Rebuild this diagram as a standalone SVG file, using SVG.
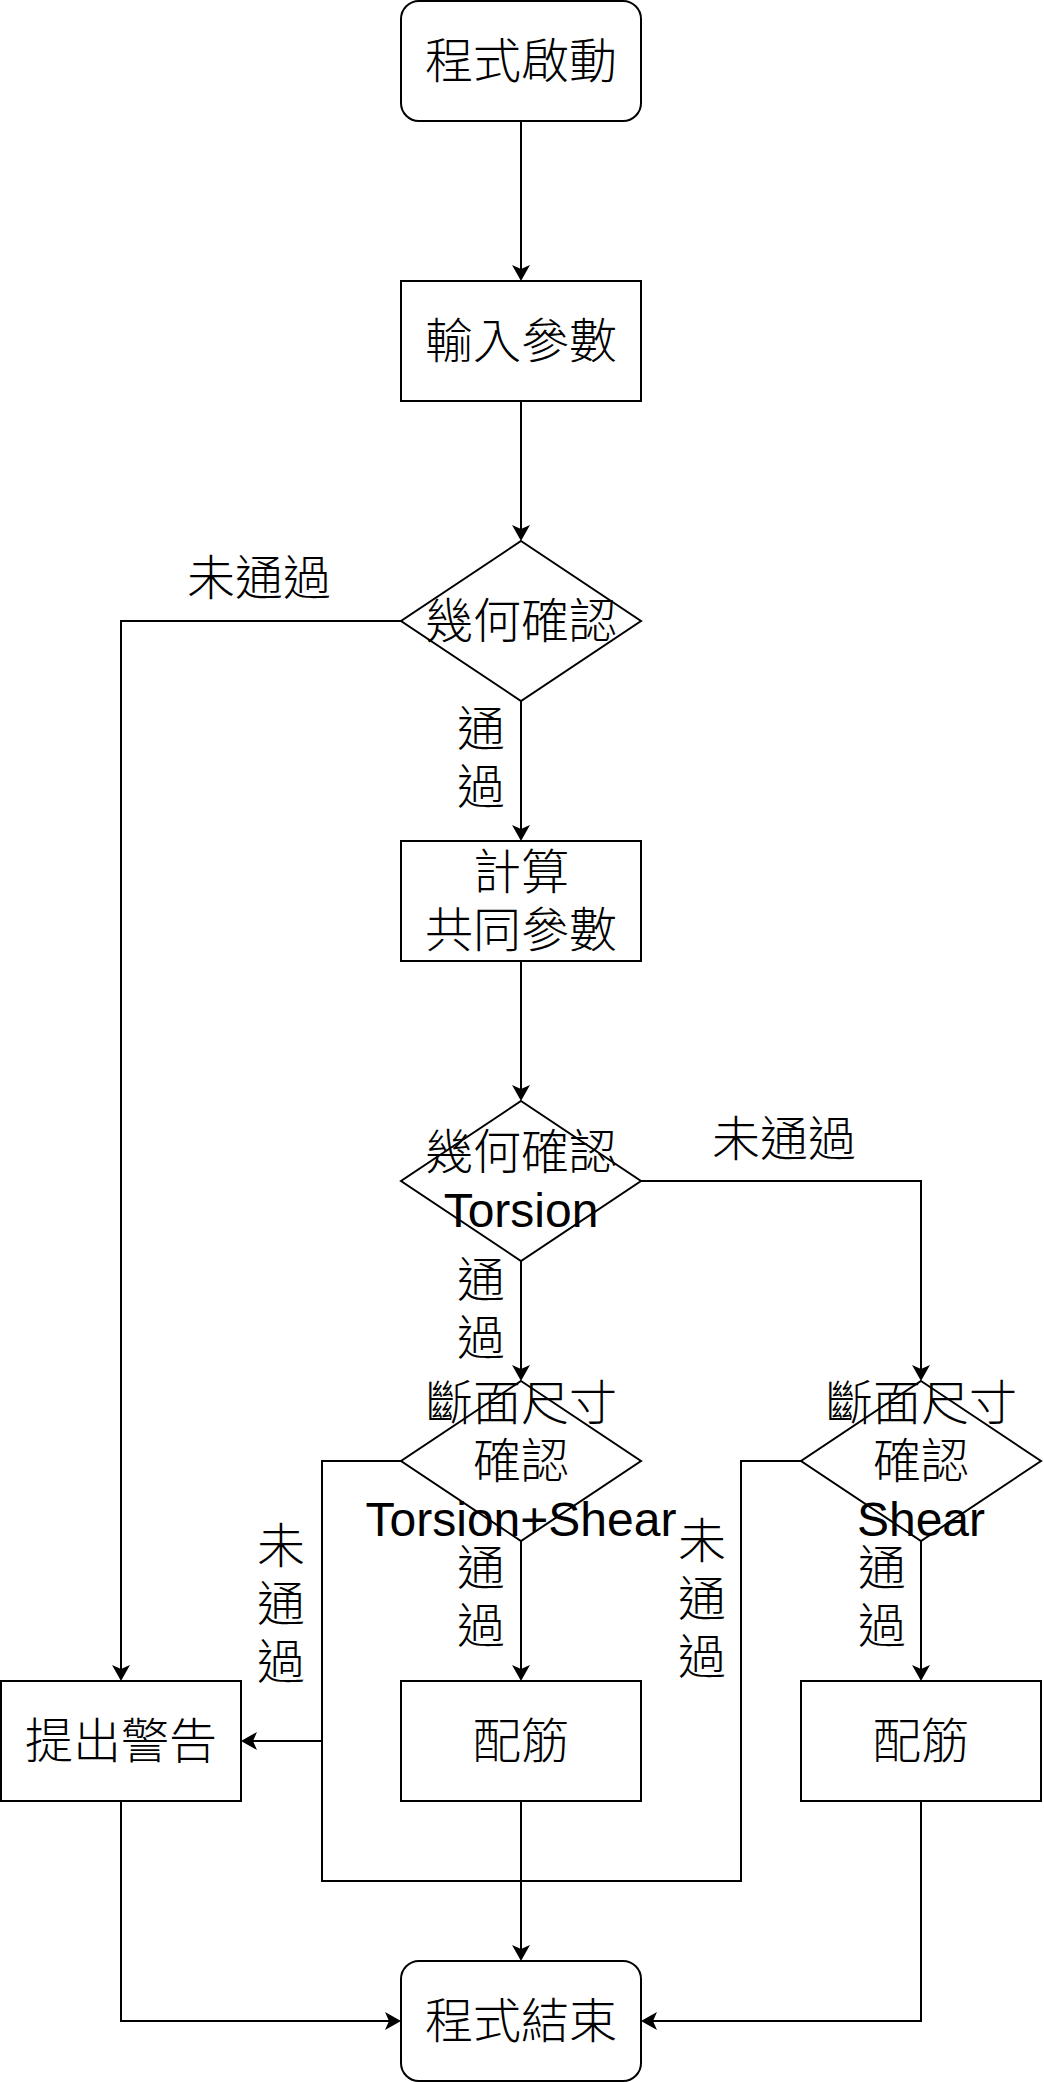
<svg xmlns="http://www.w3.org/2000/svg" width="1044" height="2082" viewBox="0 0 1044 2082">
<style>
.n{fill:#fff;stroke:#000;stroke-width:2}
.t{font-family:"Liberation Sans","Noto Sans CJK TC",sans-serif;font-size:48px;font-weight:300;fill:#000;text-anchor:middle;dominant-baseline:central}
.e{fill:none;stroke:#000;stroke-width:2}
</style>
<defs>
<marker id="a" markerUnits="userSpaceOnUse" viewBox="0 0 16 18" markerWidth="16" markerHeight="18" refX="4" refY="9" orient="auto">
<path d="M0,0 L16,9 L0,18 L4,9 Z" fill="#000"/>
</marker>
</defs>
<g id="connectors">
<path class="e" d="M521,121 V269" marker-end="url(#a)"/>
<path class="e" d="M521,401 V529" marker-end="url(#a)"/>
<path class="e" d="M521,701 V829" marker-end="url(#a)"/>
<path class="e" d="M401,621 H121 V1669" marker-end="url(#a)"/>
<path class="e" d="M521,961 V1089" marker-end="url(#a)"/>
<path class="e" d="M521,1261 V1369" marker-end="url(#a)"/>
<path class="e" d="M641,1181 H921 V1369" marker-end="url(#a)"/>
<path class="e" d="M521,1541 V1669" marker-end="url(#a)"/>
<path class="e" d="M921,1541 V1669" marker-end="url(#a)"/>
<path class="e" d="M401,1461 H322 V1741 H253" marker-end="url(#a)"/>
<path class="e" d="M801,1461 H741 V1881 H322 V1741"/>
<path class="e" d="M521,1801 V1949" marker-end="url(#a)"/>
<path class="e" d="M121,1801 V2021 H389" marker-end="url(#a)"/>
<path class="e" d="M921,1801 V2021 H653" marker-end="url(#a)"/>
<text class="t" x="259" y="578">未通過</text>
<text class="t" x="481" y="729">通</text>
<text class="t" x="481" y="787">過</text>
<text class="t" x="481" y="1280">通</text>
<text class="t" x="481" y="1338">過</text>
<text class="t" x="784" y="1139">未通過</text>
<text class="t" x="481" y="1568">通</text>
<text class="t" x="481" y="1626">過</text>
<text class="t" x="281" y="1546">未</text>
<text class="t" x="281" y="1604">通</text>
<text class="t" x="281" y="1662">過</text>
<text class="t" x="702" y="1541">未</text>
<text class="t" x="702" y="1599">通</text>
<text class="t" x="702" y="1657">過</text>
<text class="t" x="882" y="1568">通</text>
<text class="t" x="882" y="1626">過</text>
</g>
<g id="start"><rect class="n" x="401" y="1" width="240" height="120" rx="18"/><text class="t" x="521" y="61">程式啟動</text></g>
<g id="input"><rect class="n" x="401" y="281" width="240" height="120"/><text class="t" x="521" y="341">輸入參數</text></g>
<g id="geo1"><polygon class="n" points="521,541 641,621 521,701 401,621"/><text class="t" x="521" y="621">幾何確認</text></g>
<g id="calc"><rect class="n" x="401" y="841" width="240" height="120"/><text class="t" x="521" y="872">計算</text><text class="t" x="521" y="930">共同參數</text></g>
<g id="geo2"><polygon class="n" points="521,1101 641,1181 521,1261 401,1181"/><text class="t" x="521" y="1152">幾何確認</text><text class="t" x="521" y="1210">Torsion</text></g>
<g id="sec1"><polygon class="n" points="521,1381 641,1461 521,1541 401,1461"/><text class="t" x="521" y="1403">斷面尺寸</text><text class="t" x="521" y="1461">確認</text><text class="t" x="521" y="1519">Torsion+Shear</text></g>
<g id="sec2"><polygon class="n" points="921,1381 1041,1461 921,1541 801,1461"/><text class="t" x="921" y="1403">斷面尺寸</text><text class="t" x="921" y="1461">確認</text><text class="t" x="921" y="1519">Shear</text></g>
<g id="warn"><rect class="n" x="1" y="1681" width="240" height="120"/><text class="t" x="121" y="1741">提出警告</text></g>
<g id="rebar1"><rect class="n" x="401" y="1681" width="240" height="120"/><text class="t" x="521" y="1741">配筋</text></g>
<g id="rebar2"><rect class="n" x="801" y="1681" width="240" height="120"/><text class="t" x="921" y="1741">配筋</text></g>
<g id="end"><rect class="n" x="401" y="1961" width="240" height="120" rx="18"/><text class="t" x="521" y="2021">程式結束</text></g>
</svg>
